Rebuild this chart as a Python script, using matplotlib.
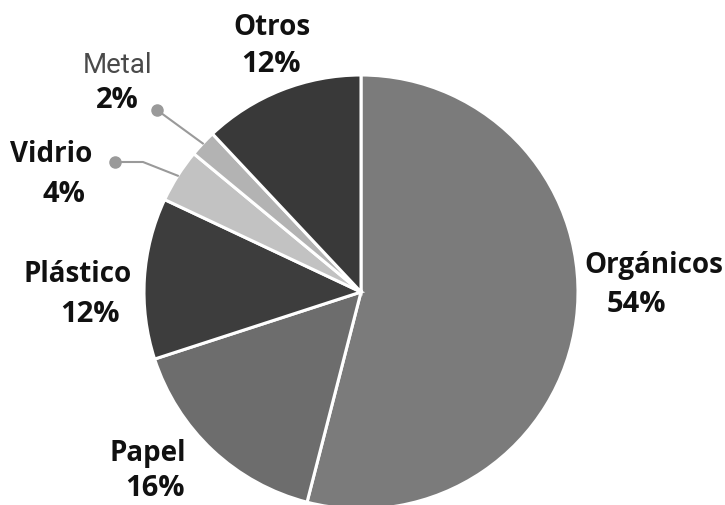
import numpy as np
import matplotlib
matplotlib.use("Agg")
import matplotlib.pyplot as plt

# Composición de residuos (%), en sentido horario desde las 12
categorias = ["Orgánicos", "Papel", "Plástico", "Vidrio", "Metal", "Otros"]
porcentajes = [54, 16, 12, 4, 2, 12]
colores = ["#7b7b7b", "#6d6d6d", "#3d3d3d", "#c2c2c2", "#b3b3b3", "#393939"]

W, H = 725, 505
cx, cy, r = 361, H - 292, 217

fig = plt.figure(figsize=(W / 100, H / 100), dpi=100)
ax = fig.add_axes([0, 0, 1, 1])
wedges, _ = ax.pie(porcentajes, colors=colores, startangle=90, counterclock=False,
                   center=(cx, cy), radius=r,
                   wedgeprops=dict(edgecolor="white", linewidth=2.2))
ax.set_xlim(0, W); ax.set_ylim(0, H)
ax.set_aspect("equal"); ax.axis("off")

fuente = ["Open Sans", "DejaVu Sans"]
nombre_kw = dict(family=fuente, fontweight="bold", fontsize=20,
                 color="#111111", ha="center", va="baseline")
pct_kw = dict(nombre_kw, fontsize=21)

def punto_borde(i):
    w = wedges[i]
    a = np.deg2rad((w.theta1 + w.theta2) / 2)
    return cx + r * np.cos(a), cy + r * np.sin(a)

# (x, línea base) del nombre y del porcentaje, en píxeles desde arriba
pos = {"Orgánicos": ((654, 273), (636, 312)),
       "Papel": ((148, 461), (155, 496)),
       "Plástico": ((78, 282), (90, 322)),
       "Vidrio": ((51, 162), (64, 202)),
       "Metal": ((118, 73), (117, 108)),
       "Otros": ((272, 35), (271, 72))}

for cat, val in zip(categorias, porcentajes):
    (nx, ny), (px, py) = pos[cat]
    if cat == "Metal":
        ax.text(nx, H - ny, cat, family=["Roboto", "DejaVu Sans"],
                fontsize=20, color="#4a4a4a", ha="center", va="baseline")
    else:
        ax.text(nx, H - ny, cat, **nombre_kw)
    ax.text(px, H - py, f"{val}%", **pct_kw)

# líneas guía para las porciones pequeñas
gris = "#9a9a9a"
ex, ey = punto_borde(categorias.index("Metal"))
ax.plot([157, ex], [H - 110, ey], color=gris, lw=1.5)
ax.plot(157, H - 110, "o", color=gris, ms=8)
ex, ey = punto_borde(categorias.index("Vidrio"))
ax.plot([115, 143, ex], [H - 162, H - 162, ey], color=gris, lw=1.5)
ax.plot(115, H - 162, "o", color=gris, ms=8)

fig.savefig("out.png", dpi=100)
